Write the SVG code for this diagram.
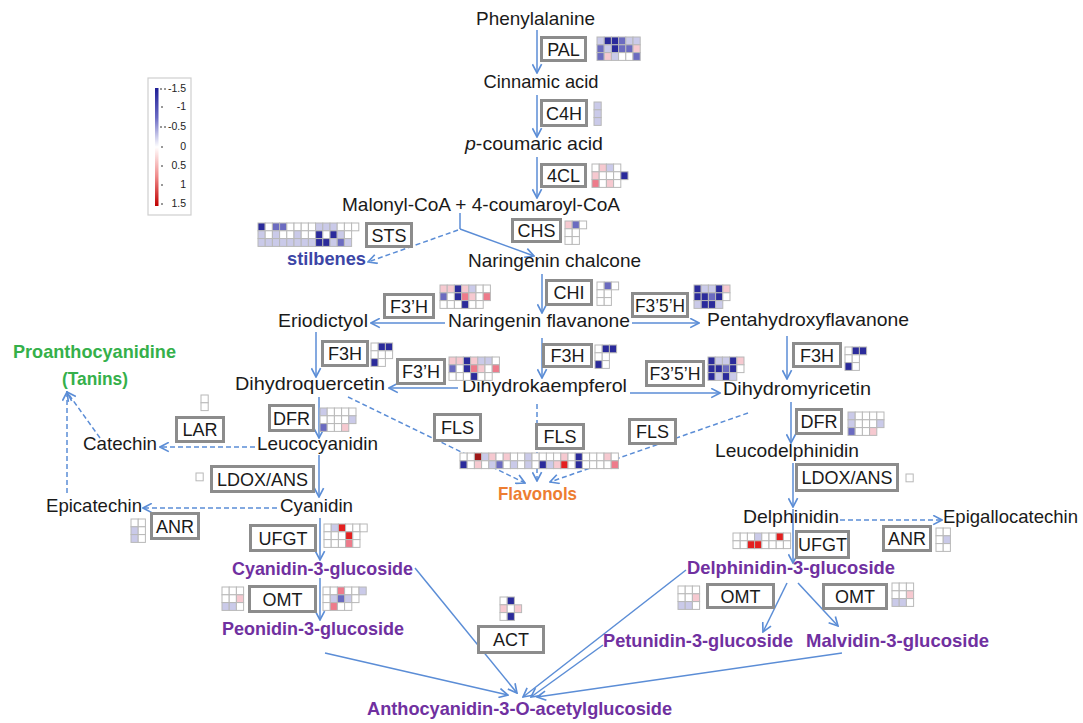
<svg xmlns="http://www.w3.org/2000/svg" width="1083" height="723" viewBox="0 0 1083 723">
<style>
text{font-family:"Liberation Sans",Arial,sans-serif}
.t{font-size:19px;fill:#1a1a1a;text-anchor:middle}
.p{font-size:18.5px;font-weight:bold;fill:#7030A0;text-anchor:middle}
.e rect{fill:#fff;stroke:#8c8c8c;stroke-width:3}
.e text{font-size:18px;fill:#1a1a1a;text-anchor:middle}
.c{fill:none;stroke:#5b8dd6;stroke-width:1.5;marker-end:url(#ah)}
.d{stroke-dasharray:5 3}
.D{fill:#2b2b9b}.B{fill:#6b6bc0}.b{fill:#cacae9}.w{fill:#fff}.r{fill:#f6c9d0}.R{fill:#ee7b8b}.X{fill:#e42020}.K{fill:#a01818}
.lg text{font-size:10.5px;fill:#222;text-anchor:end}
</style>
<defs>
<marker id="ah" viewBox="0 0 10 10" refX="9" refY="5" markerWidth="11" markerHeight="11" markerUnits="userSpaceOnUse" orient="auto"><path d="M1,0.8 L9,5 L1,9.2" fill="none" stroke="#5b8dd6" stroke-width="1.5"/></marker>
<rect id="c" width="7.2" height="7.8" stroke="#b8b8b8" stroke-width="1"/>
<linearGradient id="lgr" x1="0" y1="0" x2="0" y2="1">
<stop offset="0" stop-color="#1e1e96"/><stop offset="0.25" stop-color="#6a6ac4"/><stop offset="0.5" stop-color="#ffffff"/><stop offset="0.75" stop-color="#f08a8a"/><stop offset="1" stop-color="#c00000"/>
</linearGradient>
</defs>
<rect width="1083" height="723" fill="#fff"/>

<g id="legend" class="lg">
<rect x="148" y="78" width="43" height="137" fill="#fff" stroke="#cfcfcf" stroke-width="1.2"/>
<rect x="155" y="88" width="3.5" height="118" fill="url(#lgr)"/>
<g stroke="#333" stroke-width="1">
<path d="M160,89h2M164,89h2M161,107h2M160,127h2M164,127h2M161,147h2M161,166h2M161,185h2M161,204h2"/>
</g>
<text x="186" y="92">-1.5</text>
<text x="186" y="110">-1</text>
<text x="186" y="130">-0.5</text>
<text x="186" y="150">0</text>
<text x="186" y="169">0.5</text>
<text x="186" y="188">1</text>
<text x="186" y="207">1.5</text>
</g>

<g id="connectors">
<path class="c" d="M537,30V73"/>
<path class="c" d="M537,95V137"/>
<path class="c" d="M537,157V198"/>
<path fill="none" stroke="#5b8dd6" stroke-width="1.5" d="M460,213V229"/>
<path class="c" d="M460,229L534,256"/>
<path class="c d" d="M458,230L368,262"/>
<path class="c" d="M542,274V313"/>
<path class="c" d="M445,323H371"/>
<path class="c" d="M632,323H699"/>
<path class="c" d="M316,332V377"/>
<path class="c" d="M542,338V378"/>
<path class="c" d="M458,388H389"/>
<path class="c" d="M630,393H720"/>
<path class="c" d="M787,336V379"/>
<path class="c" d="M791,402V443"/>
<path class="c" d="M793,463V507"/>
<path class="c" d="M793,509V563"/>
<path class="c d" d="M840,520H942"/>
<path class="c" d="M787,583L763,632"/>
<path class="c" d="M798,583L838,626"/>
<path class="c" d="M686,570L523,697"/>
<path class="c" d="M603,645L531,697"/>
<path class="c" d="M842,653L537,697"/>
<path class="c" d="M415,568L517,693"/>
<path class="c" d="M325,653L508,695"/>
<path class="c" d="M320,518V560"/>
<path class="c" d="M320,578V620"/>
<path class="c" d="M319,397V438"/>
<path class="c" d="M319,455V497"/>
<path class="c d" d="M255,447H160"/>
<path class="c d" d="M277,508H143"/>
<path class="c d" d="M100,438L67,392"/>
<path class="c d" d="M67,493V392"/>
<path class="c d" d="M348,397L525,483"/>
<path class="c d" d="M537,404V481"/>
<path class="c d" d="M748,413L550,482"/>
</g>

<g id="n-phenylalanine"><text class="t" x="535.5" y="25" textLength="119" lengthAdjust="spacingAndGlyphs">Phenylalanine</text></g>
<g id="n-cinnamic"><text class="t" x="541" y="88" textLength="115" lengthAdjust="spacingAndGlyphs">Cinnamic acid</text></g>
<g id="n-pcoumaric"><text class="t" x="534" y="150" textLength="138" lengthAdjust="spacingAndGlyphs"><tspan font-style="italic">p</tspan>-coumaric acid</text></g>
<g id="n-malonyl"><text class="t" x="481" y="211" textLength="278" lengthAdjust="spacingAndGlyphs">Malonyl-CoA + 4-coumaroyl-CoA</text></g>
<g id="n-chalcone"><text class="t" x="554.5" y="267" textLength="173" lengthAdjust="spacingAndGlyphs">Naringenin chalcone</text></g>
<g id="n-stilbenes"><text x="326.5" y="265" font-size="18.5" font-weight="bold" fill="#3c46a6" text-anchor="middle" textLength="79" lengthAdjust="spacingAndGlyphs">stilbenes</text></g>
<g id="n-eriodictyol"><text class="t" x="323" y="327" textLength="90" lengthAdjust="spacingAndGlyphs">Eriodictyol</text></g>
<g id="n-flavanone"><text class="t" x="539" y="327" textLength="182" lengthAdjust="spacingAndGlyphs">Naringenin flavanone</text></g>
<g id="n-pentahydroxy"><text class="t" x="808" y="326" textLength="202" lengthAdjust="spacingAndGlyphs">Pentahydroxyflavanone</text></g>
<g id="n-dihydroquercetin"><text class="t" x="310" y="390" textLength="150" lengthAdjust="spacingAndGlyphs">Dihydroquercetin</text></g>
<g id="n-dihydrokaempferol"><text class="t" x="544.5" y="392" textLength="165" lengthAdjust="spacingAndGlyphs">Dihydrokaempferol</text></g>
<g id="n-dihydromyricetin"><text class="t" x="797" y="395" textLength="148" lengthAdjust="spacingAndGlyphs">Dihydromyricetin</text></g>
<g id="n-leucocyanidin"><text class="t" x="317.5" y="450" textLength="121" lengthAdjust="spacingAndGlyphs">Leucocyanidin</text></g>
<g id="n-catechin"><text class="t" x="120" y="450" textLength="74" lengthAdjust="spacingAndGlyphs">Catechin</text></g>
<g id="n-leucodelphinidin"><text class="t" x="787" y="457" textLength="144" lengthAdjust="spacingAndGlyphs">Leucodelphinidin</text></g>
<g id="n-cyanidin"><text class="t" x="316.5" y="512" textLength="73" lengthAdjust="spacingAndGlyphs">Cyanidin</text></g>
<g id="n-epicatechin"><text class="t" x="94" y="512" textLength="96" lengthAdjust="spacingAndGlyphs">Epicatechin</text></g>
<g id="n-delphinidin"><text class="t" x="791" y="523" textLength="96" lengthAdjust="spacingAndGlyphs">Delphinidin</text></g>
<g id="n-epigallocatechin"><text class="t" x="1010.5" y="523" textLength="135" lengthAdjust="spacingAndGlyphs">Epigallocatechin</text></g>
<g id="n-proanthocyanidine"><text x="94.5" y="358" font-size="18.5" font-weight="bold" fill="#35b04a" text-anchor="middle" textLength="163" lengthAdjust="spacingAndGlyphs">Proanthocyanidine</text><text x="95" y="385" font-size="18.5" font-weight="bold" fill="#35b04a" text-anchor="middle" textLength="66" lengthAdjust="spacingAndGlyphs">(Tanins)</text></g>
<g id="n-flavonols"><text x="537.5" y="500" font-size="18.5" font-weight="bold" fill="#ed7d31" text-anchor="middle" textLength="79" lengthAdjust="spacingAndGlyphs">Flavonols</text></g>
<g id="n-cy3g"><text class="p" x="322.5" y="575" textLength="181" lengthAdjust="spacingAndGlyphs">Cyanidin-3-glucoside</text></g>
<g id="n-pe3g"><text class="p" x="313" y="635" textLength="182" lengthAdjust="spacingAndGlyphs">Peonidin-3-glucoside</text></g>
<g id="n-acetyl"><text class="p" x="519.5" y="715" textLength="305" lengthAdjust="spacingAndGlyphs">Anthocyanidin-3-O-acetylglucoside</text></g>
<g id="n-de3g"><text class="p" x="791" y="574" textLength="208" lengthAdjust="spacingAndGlyphs">Delphinidin-3-glucoside</text></g>
<g id="n-pt3g"><text class="p" x="698" y="647" textLength="190" lengthAdjust="spacingAndGlyphs">Petunidin-3-glucoside</text></g>
<g id="n-mv3g"><text class="p" x="897.5" y="647" textLength="183" lengthAdjust="spacingAndGlyphs">Malvidin-3-glucoside</text></g>

<g id="e-pal" class="e"><rect x="541.5" y="37.5" width="44" height="23"/><text x="563.5" y="55.5">PAL</text>
<g transform="translate(597,37)"><use href="#c" x="0" y="0" class="b"/><use href="#c" x="7.2" y="0" class="D"/><use href="#c" x="14.4" y="0" class="D"/><use href="#c" x="21.6" y="0" class="B"/><use href="#c" x="28.8" y="0" class="b"/><use href="#c" x="36" y="0" class="b"/>
<use href="#c" x="0" y="7.8" class="B"/><use href="#c" x="7.2" y="7.8" class="b"/><use href="#c" x="14.4" y="7.8" class="D"/><use href="#c" x="21.6" y="7.8" class="B"/><use href="#c" x="28.8" y="7.8" class="B"/><use href="#c" x="36" y="7.8" class="r"/>
<use href="#c" x="0" y="15.6" class="B"/><use href="#c" x="7.2" y="15.6" class="r"/><use href="#c" x="14.4" y="15.6" class="b"/><use href="#c" x="21.6" y="15.6" class="w"/><use href="#c" x="28.8" y="15.6" class="w"/><use href="#c" x="36" y="15.6" class="B"/></g></g>

<g id="e-c4h" class="e"><rect x="541.5" y="100.5" width="45" height="25"/><text x="564" y="119.5">C4H</text>
<g transform="translate(594,102)"><use href="#c" x="0" y="0" class="b"/><use href="#c" x="0" y="7.8" class="b"/><use href="#c" x="0" y="15.6" class="b"/></g></g>

<g id="e-4cl" class="e"><rect x="541.5" y="164.5" width="44" height="22"/><text x="563.5" y="182">4CL</text>
<g transform="translate(592,164)"><use href="#c" x="0" y="0" class="w"/><use href="#c" x="7.2" y="0" class="r"/><use href="#c" x="14.4" y="0" class="b"/><use href="#c" x="21.6" y="0" class="w"/>
<use href="#c" x="0" y="7.8" class="r"/><use href="#c" x="7.2" y="7.8" class="w"/><use href="#c" x="14.4" y="7.8" class="w"/><use href="#c" x="21.6" y="7.8" class="w"/><use href="#c" x="28.8" y="7.8" class="D"/>
<use href="#c" x="0" y="15.6" class="R"/><use href="#c" x="7.2" y="15.6" class="w"/><use href="#c" x="14.4" y="15.6" class="r"/><use href="#c" x="21.6" y="15.6" class="w"/></g></g>

<g id="e-chs" class="e"><rect x="512.5" y="219.5" width="48" height="22"/><text x="536.5" y="237">CHS</text>
<g transform="translate(565,221)"><use href="#c" x="0" y="0" class="r"/><use href="#c" x="7.2" y="0" class="B"/><use href="#c" x="14.4" y="0" class="w"/>
<use href="#c" x="0" y="7.8" class="w"/><use href="#c" x="7.2" y="7.8" class="w"/>
<use href="#c" x="0" y="15.6" class="w"/><use href="#c" x="7.2" y="15.6" class="w"/></g></g>

<g id="e-sts" class="e"><rect x="366.5" y="223.5" width="45" height="23"/><text x="389" y="241.5">STS</text>
<g transform="translate(258,223)">
<use href="#c" x="0" y="0" class="D"/><use href="#c" x="7.2" y="0" class="w"/><use href="#c" x="14.4" y="0" class="B"/><use href="#c" x="21.6" y="0" class="B"/><use href="#c" x="28.8" y="0" class="w"/><use href="#c" x="36" y="0" class="w"/><use href="#c" x="43.2" y="0" class="w"/><use href="#c" x="50.4" y="0" class="w"/><use href="#c" x="57.6" y="0" class="b"/><use href="#c" x="64.8" y="0" class="b"/><use href="#c" x="72" y="0" class="b"/><use href="#c" x="79.2" y="0" class="w"/><use href="#c" x="86.4" y="0" class="w"/><use href="#c" x="93.6" y="0" class="w"/>
<use href="#c" x="0" y="7.8" class="b"/><use href="#c" x="7.2" y="7.8" class="w"/><use href="#c" x="14.4" y="7.8" class="b"/><use href="#c" x="21.6" y="7.8" class="w"/><use href="#c" x="28.8" y="7.8" class="w"/><use href="#c" x="36" y="7.8" class="b"/><use href="#c" x="43.2" y="7.8" class="w"/><use href="#c" x="50.4" y="7.8" class="w"/><use href="#c" x="57.6" y="7.8" class="D"/><use href="#c" x="64.8" y="7.8" class="w"/><use href="#c" x="72" y="7.8" class="D"/><use href="#c" x="79.2" y="7.8" class="b"/><use href="#c" x="86.4" y="7.8" class="w"/>
<use href="#c" x="0" y="15.6" class="b"/><use href="#c" x="7.2" y="15.6" class="b"/><use href="#c" x="14.4" y="15.6" class="b"/><use href="#c" x="21.6" y="15.6" class="b"/><use href="#c" x="28.8" y="15.6" class="b"/><use href="#c" x="36" y="15.6" class="b"/><use href="#c" x="43.2" y="15.6" class="b"/><use href="#c" x="50.4" y="15.6" class="b"/><use href="#c" x="57.6" y="15.6" class="D"/><use href="#c" x="64.8" y="15.6" class="D"/><use href="#c" x="72" y="15.6" class="b"/><use href="#c" x="79.2" y="15.6" class="B"/><use href="#c" x="86.4" y="15.6" class="b"/></g></g>

<g id="e-chi" class="e"><rect x="546.5" y="280.5" width="45" height="24"/><text x="569" y="299">CHI</text>
<g transform="translate(597,282)"><use href="#c" x="0" y="0" class="w"/><use href="#c" x="7.2" y="0" class="B"/><use href="#c" x="14.4" y="0" class="w"/>
<use href="#c" x="0" y="7.8" class="w"/><use href="#c" x="7.2" y="7.8" class="w"/>
<use href="#c" x="0" y="15.6" class="w"/><use href="#c" x="7.2" y="15.6" class="w"/></g></g>

<g id="e-f3h-1" class="e"><rect x="384.5" y="294.5" width="49" height="23"/><text x="409" y="312.5">F3’H</text>
<g transform="translate(440,285)">
<use href="#c" x="0" y="0" class="r"/><use href="#c" x="7.2" y="0" class="r"/><use href="#c" x="14.4" y="0" class="D"/><use href="#c" x="21.6" y="0" class="r"/><use href="#c" x="28.8" y="0" class="b"/><use href="#c" x="36" y="0" class="w"/><use href="#c" x="43.2" y="0" class="w"/>
<use href="#c" x="0" y="7.8" class="B"/><use href="#c" x="7.2" y="7.8" class="w"/><use href="#c" x="14.4" y="7.8" class="D"/><use href="#c" x="21.6" y="7.8" class="R"/><use href="#c" x="28.8" y="7.8" class="r"/><use href="#c" x="36" y="7.8" class="w"/><use href="#c" x="43.2" y="7.8" class="R"/>
<use href="#c" x="0" y="15.6" class="w"/><use href="#c" x="7.2" y="15.6" class="w"/><use href="#c" x="14.4" y="15.6" class="w"/><use href="#c" x="21.6" y="15.6" class="D"/><use href="#c" x="28.8" y="15.6" class="w"/><use href="#c" x="36" y="15.6" class="w"/></g></g>

<g id="e-f35h-1" class="e"><rect x="632.5" y="293.5" width="55" height="23"/><text x="660" y="311.5" textLength="50" lengthAdjust="spacingAndGlyphs">F3’5’H</text>
<g transform="translate(694,285)">
<use href="#c" x="0" y="0" class="D"/><use href="#c" x="7.2" y="0" class="b"/><use href="#c" x="14.4" y="0" class="b"/><use href="#c" x="21.6" y="0" class="D"/><use href="#c" x="28.8" y="0" class="r"/>
<use href="#c" x="0" y="7.8" class="D"/><use href="#c" x="7.2" y="7.8" class="D"/><use href="#c" x="14.4" y="7.8" class="B"/><use href="#c" x="21.6" y="7.8" class="D"/><use href="#c" x="28.8" y="7.8" class="w"/>
<use href="#c" x="0" y="15.6" class="b"/><use href="#c" x="7.2" y="15.6" class="D"/><use href="#c" x="14.4" y="15.6" class="D"/><use href="#c" x="21.6" y="15.6" class="b"/></g></g>

<g id="e-f3h-l" class="e"><rect x="322.5" y="341.5" width="45" height="24"/><text x="345" y="360">F3H</text>
<g transform="translate(371,343)"><use href="#c" x="0" y="0" class="w"/><use href="#c" x="7.2" y="0" class="D"/><use href="#c" x="14.4" y="0" class="D"/>
<use href="#c" x="0" y="7.8" class="w"/><use href="#c" x="7.2" y="7.8" class="w"/><use href="#c" x="14.4" y="7.8" class="w"/>
<use href="#c" x="0" y="15.6" class="D"/><use href="#c" x="7.2" y="15.6" class="w"/></g></g>

<g id="e-f3h-2" class="e"><rect x="397.5" y="359.5" width="47" height="24"/><text x="421" y="378">F3’H</text>
<g transform="translate(449,357)">
<use href="#c" x="0" y="0" class="r"/><use href="#c" x="7.2" y="0" class="r"/><use href="#c" x="14.4" y="0" class="D"/><use href="#c" x="21.6" y="0" class="r"/><use href="#c" x="28.8" y="0" class="b"/><use href="#c" x="36" y="0" class="b"/><use href="#c" x="43.2" y="0" class="w"/>
<use href="#c" x="0" y="7.8" class="B"/><use href="#c" x="7.2" y="7.8" class="w"/><use href="#c" x="14.4" y="7.8" class="D"/><use href="#c" x="21.6" y="7.8" class="R"/><use href="#c" x="28.8" y="7.8" class="r"/><use href="#c" x="36" y="7.8" class="w"/><use href="#c" x="43.2" y="7.8" class="R"/>
<use href="#c" x="0" y="15.6" class="w"/><use href="#c" x="7.2" y="15.6" class="w"/><use href="#c" x="14.4" y="15.6" class="w"/><use href="#c" x="21.6" y="15.6" class="D"/><use href="#c" x="28.8" y="15.6" class="w"/><use href="#c" x="36" y="15.6" class="w"/></g></g>

<g id="e-f3h-m" class="e"><rect x="543.5" y="344.5" width="48" height="22"/><text x="567.5" y="362">F3H</text>
<g transform="translate(595,345)"><use href="#c" x="0" y="0" class="w"/><use href="#c" x="7.2" y="0" class="D"/><use href="#c" x="14.4" y="0" class="D"/>
<use href="#c" x="0" y="7.8" class="w"/><use href="#c" x="7.2" y="7.8" class="w"/>
<use href="#c" x="0" y="15.6" class="D"/><use href="#c" x="7.2" y="15.6" class="w"/></g></g>

<g id="e-f35h-2" class="e"><rect x="646.5" y="361.5" width="57" height="24"/><text x="675" y="380" textLength="51" lengthAdjust="spacingAndGlyphs">F3’5’H</text>
<g transform="translate(708,357)">
<use href="#c" x="0" y="0" class="D"/><use href="#c" x="7.2" y="0" class="b"/><use href="#c" x="14.4" y="0" class="b"/><use href="#c" x="21.6" y="0" class="D"/><use href="#c" x="28.8" y="0" class="r"/>
<use href="#c" x="0" y="7.8" class="D"/><use href="#c" x="7.2" y="7.8" class="D"/><use href="#c" x="14.4" y="7.8" class="B"/><use href="#c" x="21.6" y="7.8" class="D"/><use href="#c" x="28.8" y="7.8" class="w"/>
<use href="#c" x="0" y="15.6" class="D"/><use href="#c" x="7.2" y="15.6" class="b"/><use href="#c" x="14.4" y="15.6" class="D"/><use href="#c" x="21.6" y="15.6" class="b"/></g></g>

<g id="e-f3h-r" class="e"><rect x="793.5" y="343.5" width="47" height="23"/><text x="817" y="361.5">F3H</text>
<g transform="translate(845,347)"><use href="#c" x="0" y="0" class="w"/><use href="#c" x="7.2" y="0" class="D"/><use href="#c" x="14.4" y="0" class="D"/>
<use href="#c" x="0" y="7.8" class="w"/><use href="#c" x="7.2" y="7.8" class="w"/>
<use href="#c" x="0" y="15.6" class="D"/><use href="#c" x="7.2" y="15.6" class="w"/></g></g>

<g id="e-dfr-r" class="e"><rect x="796.5" y="409.5" width="45" height="24"/><text x="819" y="428">DFR</text>
<g transform="translate(848,412)">
<use href="#c" x="0" y="0" class="b"/><use href="#c" x="7.2" y="0" class="w"/><use href="#c" x="14.4" y="0" class="w"/><use href="#c" x="21.6" y="0" class="w"/><use href="#c" x="28.8" y="0" class="w"/>
<use href="#c" x="0" y="7.8" class="b"/><use href="#c" x="7.2" y="7.8" class="w"/><use href="#c" x="14.4" y="7.8" class="w"/><use href="#c" x="21.6" y="7.8" class="w"/><use href="#c" x="28.8" y="7.8" class="b"/>
<use href="#c" x="0" y="15.6" class="B"/><use href="#c" x="7.2" y="15.6" class="w"/><use href="#c" x="14.4" y="15.6" class="w"/><use href="#c" x="21.6" y="15.6" class="r"/></g></g>

<g id="e-ldox-r" class="e"><rect x="796.5" y="464.5" width="101" height="26"/><text x="847" y="484">LDOX/ANS</text>
<use href="#c" x="906" y="474" class="w"/></g>

<g id="e-ufgt-r" class="e"><rect x="796.5" y="531.5" width="52" height="26"/><text x="822.5" y="551">UFGT</text>
<g transform="translate(733,533)">
<use href="#c" x="0" y="0" class="w"/><use href="#c" x="7.2" y="0" class="w"/><use href="#c" x="14.4" y="0" class="w"/><use href="#c" x="21.6" y="0" class="b"/><use href="#c" x="28.8" y="0" class="w"/><use href="#c" x="36" y="0" class="w"/><use href="#c" x="43.2" y="0" class="X"/><use href="#c" x="50.4" y="0" class="w"/>
<use href="#c" x="0" y="7.8" class="w"/><use href="#c" x="7.2" y="7.8" class="w"/><use href="#c" x="14.4" y="7.8" class="X"/><use href="#c" x="21.6" y="7.8" class="X"/><use href="#c" x="28.8" y="7.8" class="w"/><use href="#c" x="36" y="7.8" class="w"/><use href="#c" x="43.2" y="7.8" class="w"/><use href="#c" x="50.4" y="7.8" class="w"/></g></g>

<g id="e-anr-r" class="e"><rect x="883.5" y="526.5" width="47" height="24"/><text x="907" y="545">ANR</text>
<g transform="translate(936,528)"><use href="#c" x="0" y="0" class="w"/><use href="#c" x="7.2" y="0" class="w"/>
<use href="#c" x="0" y="7.8" class="w"/><use href="#c" x="7.2" y="7.8" class="b"/>
<use href="#c" x="0" y="15.6" class="w"/><use href="#c" x="7.2" y="15.6" class="w"/></g></g>

<g id="e-omt-rl" class="e"><rect x="707.5" y="584.5" width="66" height="23"/><text x="740.5" y="602.5">OMT</text>
<g transform="translate(678,586)"><use href="#c" x="0" y="0" class="w"/><use href="#c" x="7.2" y="0" class="w"/><use href="#c" x="14.4" y="0" class="w"/>
<use href="#c" x="0" y="7.8" class="w"/><use href="#c" x="7.2" y="7.8" class="w"/><use href="#c" x="14.4" y="7.8" class="r"/>
<use href="#c" x="0" y="15.6" class="b"/><use href="#c" x="7.2" y="15.6" class="b"/><use href="#c" x="14.4" y="15.6" class="w"/></g></g>

<g id="e-omt-rr" class="e"><rect x="823.5" y="584.5" width="63" height="24"/><text x="855" y="603">OMT</text>
<g transform="translate(892,583)"><use href="#c" x="0" y="0" class="w"/><use href="#c" x="7.2" y="0" class="w"/><use href="#c" x="14.4" y="0" class="w"/>
<use href="#c" x="0" y="7.8" class="w"/><use href="#c" x="7.2" y="7.8" class="w"/><use href="#c" x="14.4" y="7.8" class="r"/>
<use href="#c" x="0" y="15.6" class="b"/><use href="#c" x="7.2" y="15.6" class="b"/><use href="#c" x="14.4" y="15.6" class="w"/></g></g>

<g id="e-dfr-l" class="e"><rect x="269.5" y="405.5" width="44" height="25"/><text x="291.5" y="424.5">DFR</text>
<g transform="translate(320,408)">
<use href="#c" x="0" y="0" class="b"/><use href="#c" x="7.2" y="0" class="w"/><use href="#c" x="14.4" y="0" class="w"/><use href="#c" x="21.6" y="0" class="w"/><use href="#c" x="28.8" y="0" class="w"/>
<use href="#c" x="0" y="7.8" class="w"/><use href="#c" x="7.2" y="7.8" class="w"/><use href="#c" x="14.4" y="7.8" class="w"/><use href="#c" x="21.6" y="7.8" class="w"/><use href="#c" x="28.8" y="7.8" class="b"/>
<use href="#c" x="0" y="15.6" class="B"/><use href="#c" x="7.2" y="15.6" class="w"/><use href="#c" x="14.4" y="15.6" class="w"/><use href="#c" x="21.6" y="15.6" class="r"/></g></g>

<g id="e-lar" class="e"><rect x="176.5" y="417.5" width="47" height="24"/><text x="200" y="436">LAR</text>
<use href="#c" x="201" y="395" class="w"/><use href="#c" x="201" y="402.8" class="w"/></g>

<g id="e-ldox-l" class="e"><rect x="211.5" y="466.5" width="102" height="25"/><text x="262.5" y="485.5">LDOX/ANS</text>
<use href="#c" x="196" y="473" class="w"/></g>

<g id="e-anr-l" class="e"><rect x="151.5" y="513.5" width="47" height="25"/><text x="175" y="532.5">ANR</text>
<g transform="translate(131,519)"><use href="#c" x="0" y="0" class="w"/><use href="#c" x="7.2" y="0" class="w"/>
<use href="#c" x="0" y="7.8" class="b"/><use href="#c" x="7.2" y="7.8" class="w"/>
<use href="#c" x="0" y="15.6" class="b"/><use href="#c" x="7.2" y="15.6" class="w"/></g></g>

<g id="e-ufgt-l" class="e"><rect x="250.5" y="525.5" width="65" height="25"/><text x="283" y="544.5">UFGT</text>
<g transform="translate(324,524)">
<use href="#c" x="0" y="0" class="w"/><use href="#c" x="7.2" y="0" class="b"/><use href="#c" x="14.4" y="0" class="X"/><use href="#c" x="21.6" y="0" class="w"/><use href="#c" x="28.8" y="0" class="w"/><use href="#c" x="36" y="0" class="w"/>
<use href="#c" x="0" y="7.8" class="w"/><use href="#c" x="7.2" y="7.8" class="w"/><use href="#c" x="14.4" y="7.8" class="w"/><use href="#c" x="21.6" y="7.8" class="X"/><use href="#c" x="28.8" y="7.8" class="w"/>
<use href="#c" x="0" y="15.6" class="w"/><use href="#c" x="7.2" y="15.6" class="w"/><use href="#c" x="14.4" y="15.6" class="w"/><use href="#c" x="21.6" y="15.6" class="R"/><use href="#c" x="28.8" y="15.6" class="w"/></g></g>

<g id="e-omt-l" class="e"><rect x="249.5" y="586.5" width="66" height="25"/><text x="282.5" y="605.5">OMT</text>
<g transform="translate(222,587)"><use href="#c" x="0" y="0" class="w"/><use href="#c" x="7.2" y="0" class="w"/><use href="#c" x="14.4" y="0" class="w"/>
<use href="#c" x="0" y="7.8" class="w"/><use href="#c" x="7.2" y="7.8" class="w"/><use href="#c" x="14.4" y="7.8" class="r"/>
<use href="#c" x="0" y="15.6" class="b"/><use href="#c" x="7.2" y="15.6" class="b"/><use href="#c" x="14.4" y="15.6" class="w"/></g>
<g transform="translate(323,587)"><use href="#c" x="0" y="0" class="w"/><use href="#c" x="7.2" y="0" class="w"/><use href="#c" x="14.4" y="0" class="R"/><use href="#c" x="21.6" y="0" class="w"/><use href="#c" x="28.8" y="0" class="w"/><use href="#c" x="36" y="0" class="b"/>
<use href="#c" x="0" y="7.8" class="w"/><use href="#c" x="7.2" y="7.8" class="b"/><use href="#c" x="14.4" y="7.8" class="B"/><use href="#c" x="21.6" y="7.8" class="b"/><use href="#c" x="28.8" y="7.8" class="w"/>
<use href="#c" x="0" y="15.6" class="w"/><use href="#c" x="7.2" y="15.6" class="R"/><use href="#c" x="14.4" y="15.6" class="w"/><use href="#c" x="21.6" y="15.6" class="w"/></g></g>

<g id="e-act" class="e"><rect x="478.5" y="626.5" width="65" height="26"/><text x="511" y="646">ACT</text>
<g transform="translate(500,597)"><use href="#c" x="0" y="0" class="w"/><use href="#c" x="7.2" y="0" class="D"/>
<use href="#c" x="0" y="7.8" class="r"/><use href="#c" x="7.2" y="7.8" class="w"/><use href="#c" x="14.4" y="7.8" class="r"/>
<use href="#c" x="0" y="15.6" class="w"/><use href="#c" x="7.2" y="15.6" class="D"/></g></g>

<g id="e-fls-1" class="e"><rect x="434.5" y="414.5" width="46" height="26"/><text x="457.5" y="434">FLS</text></g>
<g id="e-fls-2" class="e"><rect x="536.5" y="424.5" width="47" height="24"/><text x="560" y="443">FLS</text></g>
<g id="e-fls-3" class="e"><rect x="629.5" y="419.5" width="46" height="24"/><text x="652.5" y="438">FLS</text></g>
<g id="hm-fls" transform="translate(460,453)">
<use href="#c" x="0" y="0" class="w"/><use href="#c" x="7.2" y="0" class="w"/><use href="#c" x="14.4" y="0" class="K"/><use href="#c" x="21.6" y="0" class="b"/><use href="#c" x="28.8" y="0" class="r"/><use href="#c" x="36" y="0" class="w"/><use href="#c" x="43.2" y="0" class="r"/><use href="#c" x="50.4" y="0" class="w"/><use href="#c" x="57.6" y="0" class="w"/><use href="#c" x="64.8" y="0" class="b"/><use href="#c" x="72" y="0" class="w"/><use href="#c" x="79.2" y="0" class="w"/><use href="#c" x="86.4" y="0" class="w"/><use href="#c" x="93.6" y="0" class="w"/><use href="#c" x="100.8" y="0" class="r"/><use href="#c" x="108" y="0" class="w"/><use href="#c" x="115.2" y="0" class="D"/><use href="#c" x="122.4" y="0" class="w"/><use href="#c" x="129.6" y="0" class="w"/><use href="#c" x="136.8" y="0" class="w"/><use href="#c" x="144" y="0" class="r"/><use href="#c" x="151.2" y="0" class="w"/>
<use href="#c" x="0" y="7.8" class="D"/><use href="#c" x="7.2" y="7.8" class="w"/><use href="#c" x="14.4" y="7.8" class="r"/><use href="#c" x="21.6" y="7.8" class="w"/><use href="#c" x="28.8" y="7.8" class="b"/><use href="#c" x="36" y="7.8" class="B"/><use href="#c" x="43.2" y="7.8" class="w"/><use href="#c" x="50.4" y="7.8" class="b"/><use href="#c" x="57.6" y="7.8" class="w"/><use href="#c" x="64.8" y="7.8" class="b"/><use href="#c" x="72" y="7.8" class="w"/><use href="#c" x="79.2" y="7.8" class="D"/><use href="#c" x="86.4" y="7.8" class="b"/><use href="#c" x="93.6" y="7.8" class="r"/><use href="#c" x="100.8" y="7.8" class="X"/><use href="#c" x="108" y="7.8" class="w"/><use href="#c" x="115.2" y="7.8" class="D"/><use href="#c" x="122.4" y="7.8" class="w"/><use href="#c" x="129.6" y="7.8" class="w"/><use href="#c" x="136.8" y="7.8" class="w"/><use href="#c" x="144" y="7.8" class="w"/><use href="#c" x="151.2" y="7.8" class="R"/>
</g>
</svg>
